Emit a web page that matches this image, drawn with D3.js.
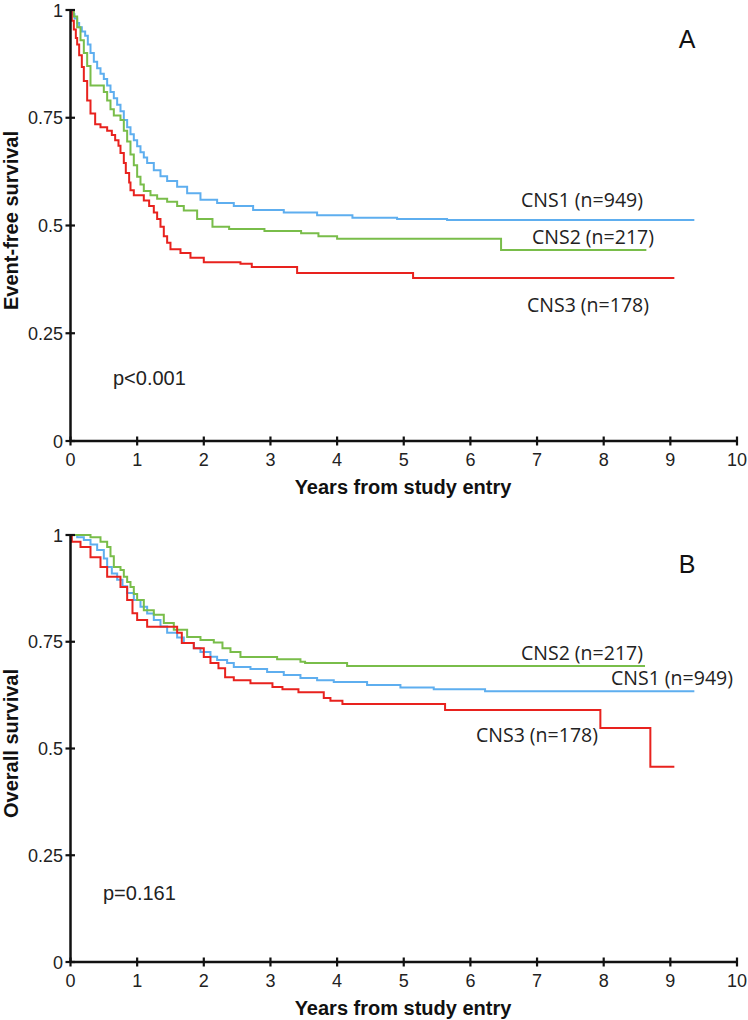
<!DOCTYPE html>
<html><head><meta charset="utf-8">
<script src="https://cdn.jsdelivr.net/npm/d3@7"></script>
<style>body{margin:0;background:#fff}</style>
</head><body>
<svg id="c" width="748" height="1020"></svg>
<script>
// ---- data ----
const xTicks = [0,1,2,3,4,5,6,7,8,9,10];
const yTicks = [0,0.25,0.5,0.75,1];
const yTickLabels = ["0","0.25","0.5","0.75","1"];

// Panel A: event-free survival
const efsTimeCNS1 = [0,0.03,0.06,0.1,0.13,0.17,0.22,0.26,0.3,0.35,0.4,0.45,0.5,0.55,0.6,0.65,0.7,0.75,0.8,0.85,0.9,0.95,1.0,1.05,1.1,1.15,1.25,1.35,1.45,1.6,1.75,1.95,2.2,2.45,2.74,3.2,3.7,4.23,4.9,5.65,9.36];
const efsSurvCNS1 = [1,0.99,0.98,0.97,0.96,0.95,0.94,0.92,0.9,0.88,0.865,0.852,0.84,0.825,0.81,0.795,0.78,0.765,0.745,0.728,0.712,0.698,0.684,0.67,0.658,0.645,0.628,0.614,0.603,0.59,0.575,0.56,0.552,0.545,0.536,0.53,0.524,0.518,0.515,0.513,0.513];
const efsTimeCNS2 = [0,0.05,0.1,0.15,0.2,0.25,0.3,0.5,0.55,0.6,0.65,0.75,0.8,0.85,0.9,0.95,1.0,1.05,1.1,1.2,1.3,1.45,1.6,1.7,1.9,2.13,2.38,2.91,3.46,3.72,4.0,6.46,8.64];
const efsSurvCNS2 = [1,0.985,0.96,0.93,0.9,0.87,0.825,0.81,0.79,0.77,0.755,0.745,0.72,0.695,0.665,0.64,0.613,0.595,0.58,0.57,0.562,0.555,0.545,0.535,0.515,0.497,0.492,0.487,0.482,0.475,0.469,0.443,0.443];
const efsTimeCNS3 = [0,0.02,0.05,0.08,0.1,0.13,0.17,0.2,0.25,0.3,0.37,0.45,0.55,0.62,0.67,0.72,0.75,0.8,0.83,0.88,0.9,0.95,1.1,1.18,1.25,1.3,1.35,1.4,1.45,1.5,1.65,1.8,2.0,2.55,2.72,3.40,5.14,9.06];
const efsSurvCNS3 = [1,0.975,0.955,0.935,0.92,0.895,0.868,0.835,0.79,0.76,0.735,0.728,0.72,0.71,0.698,0.685,0.668,0.645,0.622,0.6,0.582,0.57,0.558,0.545,0.53,0.515,0.497,0.475,0.46,0.445,0.436,0.425,0.415,0.411,0.404,0.390,0.378,0.378];

// Panel B: overall survival
const osTimeCNS1 = [0,0.1,0.2,0.3,0.4,0.5,0.55,0.62,0.7,0.78,0.85,0.95,1.05,1.15,1.25,1.35,1.45,1.6,1.7,1.85,1.95,2.1,2.2,2.35,2.45,2.7,2.95,3.2,3.45,3.7,3.95,4.45,4.95,5.45,6.22,9.36];
const osSurvCNS1 = [1,0.995,0.988,0.978,0.965,0.945,0.925,0.91,0.895,0.88,0.864,0.848,0.832,0.816,0.801,0.786,0.771,0.76,0.747,0.735,0.726,0.715,0.707,0.7,0.691,0.686,0.679,0.672,0.665,0.66,0.656,0.649,0.643,0.639,0.634,0.634];
const osTimeCNS2 = [0,0.3,0.45,0.55,0.6,0.65,0.75,0.8,0.85,0.9,0.95,1.0,1.1,1.25,1.4,1.55,1.75,1.95,2.15,2.28,2.4,2.55,3.1,3.45,3.52,4.15,8.62];
const osSurvCNS2 = [1,0.995,0.984,0.972,0.95,0.925,0.918,0.902,0.89,0.878,0.862,0.848,0.824,0.813,0.794,0.778,0.761,0.754,0.748,0.735,0.726,0.714,0.709,0.703,0.700,0.693,0.693];
const osTimeCNS3 = [0,0.02,0.15,0.3,0.45,0.55,0.75,0.85,0.93,1.0,1.15,1.6,1.67,1.85,2.0,2.1,2.22,2.32,2.45,2.7,3.03,3.18,3.42,3.8,3.9,4.08,5.62,7.95,8.70,9.06];
const osSurvCNS3 = [1,0.984,0.972,0.948,0.925,0.902,0.878,0.848,0.817,0.801,0.785,0.771,0.747,0.735,0.714,0.700,0.688,0.667,0.660,0.653,0.644,0.639,0.632,0.618,0.612,0.604,0.590,0.548,0.457,0.457];

const groupNames = ["CNS1 (n=949)","CNS2 (n=217)","CNS3 (n=178)"];
const groupColors = ["#5eaeef","#79bd4a","#e8221e"];

// ---- drawing ----
const svg = d3.select("#c");
const x = d3.scaleLinear().domain([0,10]).range([70.5,737]);
const zip = (t,s) => t.map((v,i)=>[v,s[i]]);

const panels = [
  {top:10, bottom:441, letter:"A", ytitle:"Event-free survival", p:"p<0.001", pPos:[113,385],
   series:[zip(efsTimeCNS1,efsSurvCNS1),zip(efsTimeCNS2,efsSurvCNS2),zip(efsTimeCNS3,efsSurvCNS3)],
   labels:[[521,207],[532,244],[527,312]]},
  {top:535, bottom:962, letter:"B", ytitle:"Overall survival", p:"p=0.161", pPos:[103,900],
   series:[zip(osTimeCNS1,osSurvCNS1),zip(osTimeCNS2,osSurvCNS2),zip(osTimeCNS3,osSurvCNS3)],
   labels:[[611,685],[521,660],[476,742]]}
];

const tickFont = "'Liberation Sans', Arial, sans-serif";

panels.forEach(P => {
  const y = d3.scaleLinear().domain([0,1]).range([P.bottom,P.top]);
  const g = svg.append("g");

  const line = d3.line().x(d=>x(d[0])).y(d=>y(d[1])).curve(d3.curveStepAfter);
  P.series.forEach((s,i)=>{
    g.append("path").attr("d", line(s)).attr("fill","none")
     .attr("stroke", groupColors[i]).attr("stroke-width",2);
  });

  g.append("line").attr("x1",x(0)).attr("x2",x(10)).attr("y1",y(0)).attr("y2",y(0))
   .attr("stroke","#111").attr("stroke-width",2.5);
  g.append("line").attr("x1",x(0)).attr("x2",x(0)).attr("y1",y(0)).attr("y2",y(1))
   .attr("stroke","#111").attr("stroke-width",2.5);
  xTicks.forEach(t=>{
    g.append("line").attr("x1",x(t)).attr("x2",x(t)).attr("y1",y(0)-4.5).attr("y2",y(0)+4.5)
     .attr("stroke","#111").attr("stroke-width",2.2);
    g.append("text").attr("x",x(t)).attr("y",y(0)+25).attr("text-anchor","middle")
     .attr("font-family",tickFont).attr("font-size",18).attr("fill","#222").text(t);
  });
  yTicks.forEach((t,i)=>{
    g.append("line").attr("x1",x(0)-5).attr("x2",x(0)+4.5).attr("y1",y(t)).attr("y2",y(t))
     .attr("stroke","#111").attr("stroke-width",2.2);
    g.append("text").attr("x",63).attr("y",y(t)+6.5).attr("text-anchor","end")
     .attr("font-family",tickFont).attr("font-size",18).attr("fill","#222").text(yTickLabels[i]);
  });

  g.append("text").attr("x",403).attr("y",P.bottom+53).attr("text-anchor","middle")
   .attr("font-family",tickFont).attr("font-weight","bold").attr("font-size",20).attr("fill","#111")
   .text("Years from study entry");
  g.append("text").attr("transform",`translate(18,${(P.top+P.bottom)/2-5}) rotate(-90)`)
   .attr("text-anchor","middle").attr("font-family",tickFont).attr("font-weight","bold")
   .attr("font-size",20).attr("fill","#111").text(P.ytitle);

  g.append("text").attr("x",687).attr("y",P.top+38).attr("text-anchor","middle")
   .attr("font-family",tickFont).attr("font-size",25).attr("fill","#111").text(P.letter);

  g.append("text").attr("x",P.pPos[0]).attr("y",P.pPos[1])
   .attr("font-family",tickFont).attr("font-size",20).attr("fill","#222").text(P.p);

  P.labels.forEach((pos,i)=>{
    g.append("text").attr("x",pos[0]).attr("y",pos[1])
     .attr("font-family","'Open Sans', sans-serif").attr("font-size",19.5).attr("fill","#222")
     .text(groupNames[i]);
  });
});
</script>
</body></html>
